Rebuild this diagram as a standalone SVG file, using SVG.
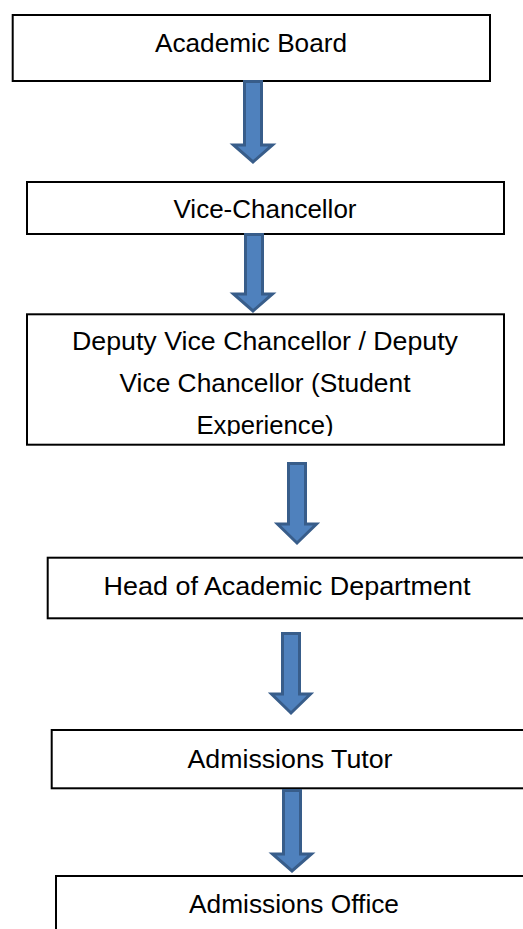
<svg xmlns="http://www.w3.org/2000/svg" width="523" height="929" viewBox="0 0 523 929">
<style>
.box{fill:#ffffff;stroke:#000000;stroke-width:2}
.lbl{font-family:"Liberation Sans","Open Sans",Arial,sans-serif;font-size:25px;fill:#000000;text-anchor:middle}
.arr{fill:#4F81BD;stroke:#385D8A;stroke-width:3;stroke-linejoin:miter}
</style>
<defs>
<clipPath id="clip3"><rect x="0" y="300" width="523" height="136"/></clipPath>
</defs>
<rect x="0" y="0" width="523" height="929" fill="#ffffff"/>
<g id="node-academic-board">
<rect class="box" x="12.7" y="15" width="477.3" height="66"/>
<text class="lbl" x="251" y="52" textLength="192" lengthAdjust="spacingAndGlyphs">Academic Board</text>
</g>
<g id="node-vice-chancellor">
<rect class="box" x="27" y="182" width="477" height="52"/>
<text class="lbl" x="265" y="218" textLength="183" lengthAdjust="spacingAndGlyphs">Vice-Chancellor</text>
</g>
<g id="node-deputy-vc">
<rect class="box" x="27" y="314.3" width="477" height="130.4"/>
<g clip-path="url(#clip3)">
<text class="lbl" x="265" y="350" textLength="386" lengthAdjust="spacingAndGlyphs">Deputy Vice Chancellor / Deputy</text>
<text class="lbl" x="265" y="392" textLength="291" lengthAdjust="spacingAndGlyphs">Vice Chancellor (Student</text>
<text class="lbl" x="265" y="434.3" textLength="137" lengthAdjust="spacingAndGlyphs">Experience)</text>
</g>
</g>
<g id="node-head-dept">
<rect class="box" x="47.7" y="557.7" width="500" height="60.6"/>
<text class="lbl" x="287" y="595" textLength="367" lengthAdjust="spacingAndGlyphs">Head of Academic Department</text>
</g>
<g id="node-admissions-tutor">
<rect class="box" x="51.7" y="730" width="500" height="58.3"/>
<text class="lbl" x="290" y="768" textLength="205" lengthAdjust="spacingAndGlyphs">Admissions Tutor</text>
</g>
<g id="node-admissions-office">
<rect class="box" x="56" y="876" width="500" height="100"/>
<text class="lbl" x="294" y="913" textLength="210" lengthAdjust="spacingAndGlyphs">Admissions Office</text>
</g>
<g id="connectors">
<path class="arr" d="M244.5,81.5 H261.5 V145 H272.5 L253,162 L233.5,145 H244.5 Z"/>
<path class="arr" d="M245.5,234.5 H262.5 V294 H272.5 L253,311 L233.5,294 H245.5 Z"/>
<path class="arr" d="M288.5,463.5 H305.5 V524 H316.5 L297,543 L277.5,524 H288.5 Z"/>
<path class="arr" d="M282.5,633.5 H299.5 V694 H310.5 L291,713 L271.5,694 H282.5 Z"/>
<path class="arr" d="M283.5,790.5 H300.5 V854 H311.5 L292,871 L272.5,854 H283.5 Z"/>
</g>
</svg>
